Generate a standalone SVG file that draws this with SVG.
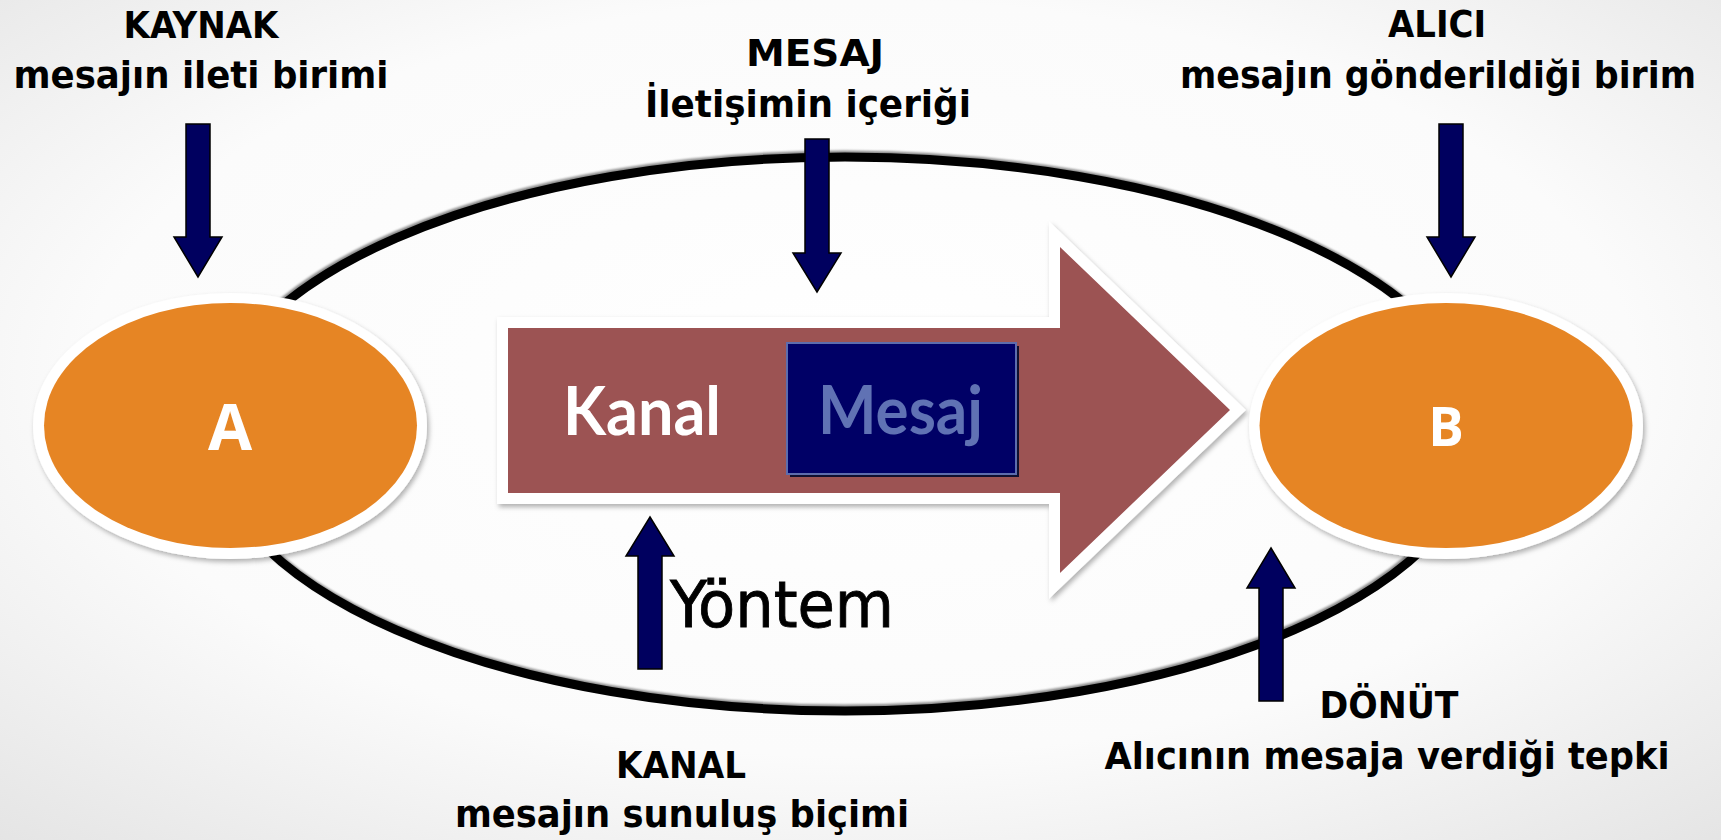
<svg xmlns="http://www.w3.org/2000/svg" width="1721" height="840" viewBox="0 0 1721 840">
  <defs>
    <radialGradient id="bg" cx="50%" cy="45%" r="75%">
      <stop offset="0" stop-color="#ffffff"/>
      <stop offset="0.6" stop-color="#fbfbfb"/>
      <stop offset="1" stop-color="#e4e4e4"/>
    </radialGradient>
    <filter id="sh" x="-10%" y="-10%" width="125%" height="130%">
      <feDropShadow dx="2" dy="3" stdDeviation="2.5" flood-color="#000" flood-opacity="0.3"/>
    </filter>
    <filter id="ringsh" x="-5%" y="-5%" width="110%" height="110%">
      <feDropShadow dx="-1" dy="-2" stdDeviation="1.2" flood-color="#000" flood-opacity="0.45"/>
    </filter>
  </defs>
  <style>
    .lbl { font-family: "DejaVu Sans Condensed", "DejaVu Sans", sans-serif; font-weight: bold; font-size: 38px; fill: #000; text-anchor: middle; }
    .nav { fill: #00005f; stroke: #000; stroke-width: 1.5; stroke-linejoin: miter; }
    .oval-out { fill: #ffffff; filter: url(#sh); }
    .oval-in { fill: #e68524; }
    .ovtxt { font-family: "Open Sans", "Liberation Sans", sans-serif; font-weight: bold; fill: #ffffff; text-anchor: middle; }
    .big { font-family: "Lato", "DejaVu Sans", sans-serif; font-weight: bold; font-size: 66px; }
  </style>
  <rect x="0" y="0" width="1721" height="840" fill="url(#bg)"/>

  <g id="connectors">
    <ellipse id="ring" cx="845" cy="434" rx="635" ry="277" fill="none" stroke="#000" stroke-width="9" filter="url(#ringsh)"/>
  </g>

  <g id="kanal-arrow" filter="url(#sh)">
    <path d="M508,328 L1060,328 L1060,247 L1230,410 L1060,573 L1060,493 L508,493 Z" fill="#9c5253" stroke="#ffffff" stroke-width="22" stroke-linejoin="miter" paint-order="stroke"/>
    <text class="big" x="563" y="435" fill="#ffffff" textLength="158" lengthAdjust="spacingAndGlyphs">Kanal</text>
  </g>

  <g id="mesaj-box">
    <rect x="790" y="346" width="229" height="131" fill="#101030"/>
    <rect x="787" y="343" width="229" height="131" fill="#000066" stroke="#5d6cad" stroke-width="2"/>
    <text class="big" x="818" y="434" fill="#6072b4" textLength="165" lengthAdjust="spacingAndGlyphs">Mesaj</text>
  </g>

  <g id="node-a">
    <ellipse class="oval-out" cx="230" cy="426" rx="197" ry="133"/>
    <ellipse class="oval-in" cx="230.5" cy="425.5" rx="186.5" ry="122.5"/>
    <text class="ovtxt" x="230" y="450" font-size="64">A</text>
  </g>

  <g id="node-b">
    <ellipse class="oval-out" cx="1446" cy="426" rx="197" ry="133"/>
    <ellipse class="oval-in" cx="1446" cy="425.5" rx="186.5" ry="122.5"/>
    <text class="ovtxt" x="1446" y="446" font-size="53">B</text>
  </g>

  <g id="arrows">
    <polygon class="nav" points="186,124 210,124 210,237 222,237 198,277 174,237 186,237"/>
    <polygon class="nav" points="805,139 829,139 829,253 841,253 817,292 793,253 805,253"/>
    <polygon class="nav" points="1439,124 1463,124 1463,237 1475,237 1451,277 1427,237 1439,237"/>
    <polygon class="nav" points="650,517 674,556 662,556 662,669 638,669 638,556 626,556"/>
    <polygon class="nav" points="1271,548 1295,588 1283,588 1283,701 1259,701 1259,588 1247,588"/>
  </g>

  <g id="label-kaynak">
    <text class="lbl" x="201" y="38" textLength="155" lengthAdjust="spacingAndGlyphs">KAYNAK</text>
    <text class="lbl" x="201" y="88" textLength="375" lengthAdjust="spacingAndGlyphs">mesajın ileti birimi</text>
  </g>
  <g id="label-mesaj">
    <text class="lbl" x="815" y="66" textLength="138" lengthAdjust="spacingAndGlyphs">MESAJ</text>
    <text class="lbl" x="808" y="117" textLength="326" lengthAdjust="spacingAndGlyphs">İletişimin içeriği</text>
  </g>
  <g id="label-alici">
    <text class="lbl" x="1437" y="37" textLength="98" lengthAdjust="spacingAndGlyphs">ALICI</text>
    <text class="lbl" x="1438" y="88" textLength="516" lengthAdjust="spacingAndGlyphs">mesajın gönderildiği birim</text>
  </g>
  <g id="label-yontem">
    <text x="670" y="627" font-family="DejaVu Sans Condensed, DejaVu Sans, sans-serif" font-size="64" fill="#000" stroke="#000" stroke-width="0.8" textLength="224" lengthAdjust="spacingAndGlyphs">Yöntem</text>
  </g>
  <g id="label-kanal">
    <text class="lbl" x="681" y="778" textLength="130" lengthAdjust="spacingAndGlyphs">KANAL</text>
    <text class="lbl" x="682" y="827" textLength="454" lengthAdjust="spacingAndGlyphs">mesajın sunuluş biçimi</text>
  </g>
  <g id="label-donut">
    <text class="lbl" x="1389" y="718" textLength="139" lengthAdjust="spacingAndGlyphs">DÖNÜT</text>
    <text class="lbl" x="1387" y="769" textLength="565" lengthAdjust="spacingAndGlyphs">Alıcının mesaja verdiği tepki</text>
  </g>
</svg>
